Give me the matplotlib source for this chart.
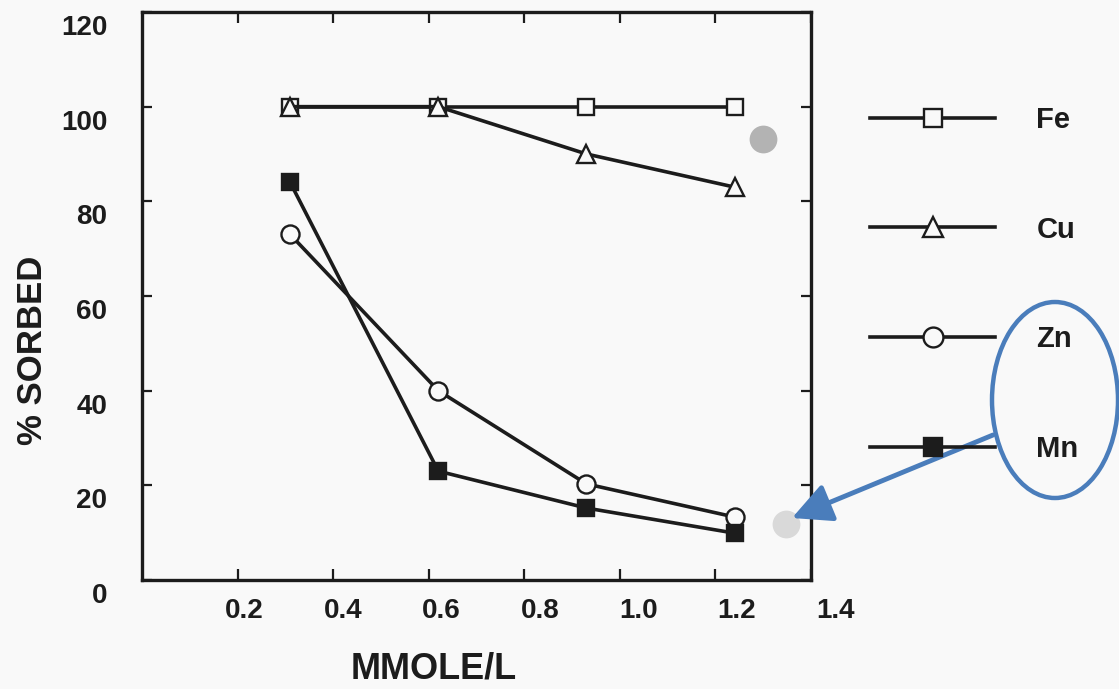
import matplotlib
matplotlib.use("Agg")
import matplotlib.pyplot as plt
from matplotlib.patches import Ellipse, FancyArrowPatch
from matplotlib.transforms import ScaledTranslation

# data
conc = [0.31, 0.62, 0.93, 1.24]
fe = [100, 100, 100, 100]
cu = [100, 100, 90, 83]
zn = [73, 40, 20.3, 13.3]
mn = [84, 23, 15.2, 9.9]

# grey highlight dots
dot_x = [1.30, 1.347]
dot_y = [93.2, 11.8]
dot_colors = ["#b3b3b3", "#d9d9d9"]

x_ticks = [0.2, 0.4, 0.6, 0.8, 1.0, 1.2, 1.4]
x_labels = ["0.2", "0.4", "0.6", "0.8", "1.0", "1.2", "1.4"]
y_ticks = [0, 20, 40, 60, 80, 100, 120]
y_labels = ["0", "20", "40", "60", "80", "100", "120"]

plt.rcParams["font.family"] = ["Liberation Sans", "DejaVu Sans"]
plt.rcParams["font.weight"] = "bold"

bg = "#f9f9f9"
ink = "#1c1c1c"
blue = "#4a7dbb"

fig = plt.figure(figsize=(11.19, 6.89), dpi=100, facecolor=bg)
ax = fig.add_axes([0.1269, 0.1582, 0.5979, 0.8244])
ax.set_facecolor(bg)

common = dict(color=ink, lw=2.6, mec=ink, mew=1.7)
ax.plot(conc, fe, marker="s", ms=11.5, mfc=bg, label="Fe", **common)
ax.plot(conc, cu, marker="^", ms=12.5, mfc=bg, label="Cu", **common)
ax.plot(conc, zn, marker="o", ms=13, mfc=bg, label="Zn", **common)
ax.plot(conc, mn, marker="s", ms=12, mfc=ink, label="Mn", **common)

for x, y, c in zip(dot_x, dot_y, dot_colors):
    ax.plot(x, y, "o", ms=20, color=c, mec="none", zorder=1)

ax.set_xlim(0, 1.4)
ax.set_ylim(0, 120)
ax.set_xticks(x_ticks, x_labels)
ax.set_yticks(y_ticks, y_labels)

for s in ax.spines.values():
    s.set_linewidth(2.4)
    s.set_color(ink)

ax.tick_params(axis="x", direction="in", length=8, width=1.6, top=True,
               labelsize=20, pad=13, colors=ink)
ax.tick_params(axis="y", direction="in", length=7, width=1.6, right=True,
               labelsize=20, pad=25, colors=ink)

# the scan has tick labels sitting a bit off their ticks
for lab in ax.get_yticklabels():
    lab.set_transform(lab.get_transform() + ScaledTranslation(0, -0.13, fig.dpi_scale_trans))
for i, lab in enumerate(ax.get_xticklabels()):
    dx = (7 + 2.9 * i) / 100
    lab.set_transform(lab.get_transform() + ScaledTranslation(dx, 0, fig.dpi_scale_trans))

fig.text(33 / 1119, 1 - 350 / 689, "% SORBED", rotation=90, fontsize=25,
         fontweight="bold", ha="center", va="center", color=ink)
fig.text(434 / 1119, 1 - 669 / 689, "MMOLE/L", fontsize=26,
         fontweight="bold", ha="center", va="center", color=ink)

handles, labels = ax.get_legend_handles_labels()
fig.legend(handles, labels, loc="upper left", bbox_to_anchor=(870 / 1119, 1 - 106 / 689),
           frameon=False, prop={"size": 21, "weight": "bold"}, handlelength=4.3,
           handletextpad=1.4, labelspacing=2.8, borderaxespad=0, borderpad=0,
           numpoints=1, labelcolor=ink, markerscale=1.1)

# blue callout added on top of the scan
ell = Ellipse((10.55, 6.89 - 4.00), 1.26, 1.96, transform=fig.dpi_scale_trans,
              fill=False, ec=blue, lw=3.2)
fig.add_artist(ell)
arrow = FancyArrowPatch((9.93, 6.89 - 4.35), (7.92, 6.89 - 5.18),
                        transform=fig.dpi_scale_trans,
                        arrowstyle="-|>,head_length=0.6,head_width=0.3",
                        mutation_scale=40, lw=3.5, color=blue,
                        shrinkA=0, shrinkB=0)
fig.add_artist(arrow)

fig.savefig("out.png", dpi=100, facecolor=bg)
